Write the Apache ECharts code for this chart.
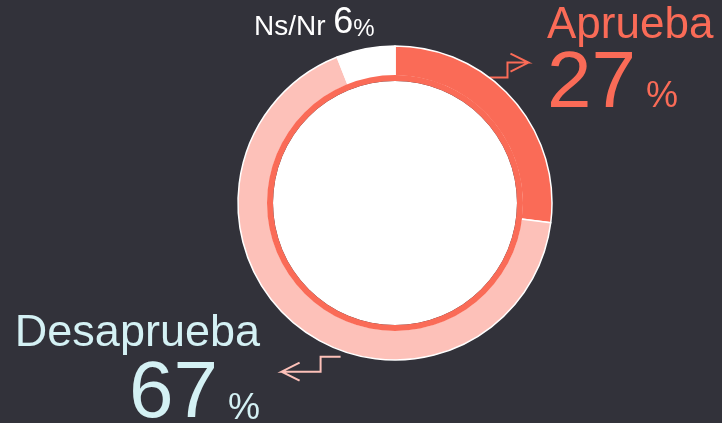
<!DOCTYPE html>
<html>
	<head>
		<meta charset="utf-8">
		<title></title>
		<script src="https://cdn.jsdelivr.net/npm/echarts@6/dist/echarts.min.js"></script>
		<style>
			html, body {
				margin: 0;
				padding: 0;
				background-color: #32323a;
			}
			#main {
				width: 722px;
				height: 423px;
			}
		</style>
	</head>
	<body>
		<div id="main"></div>
	</body>
	<script>
		// datos
		var categorias = ["Aprueba", "Desaprueba", "Ns/Nr"];
		var porcentajes = [27, 67, 6];
		var colores = ["#fa6b57", "#fdc1b9", "#ffffff"];
		var coloresTexto = ["#fa6b57", "#d4f1f4", "#ffffff"];

		var CX = 395, CY = 203, R_OUT = 157, R_IN = 127;

		function puntoBorde(angulo, r) {
			var a = angulo * Math.PI / 180;
			return [CX + r * Math.cos(a), CY - r * Math.sin(a)];
		}

		// flecha en zigzag: p0 -> codo -> codo -> punta, con sus dos alas
		function flecha(p0, dx1, dy, dx2) {
			var p1 = [p0[0] + dx1, p0[1]];
			var p2 = [p1[0], p1[1] + dy];
			var tip = [p2[0] + dx2, p2[1]];
			var s = dx2 > 0 ? -1 : 1;
			return [p0, p1, p2, tip, [tip[0] + s * 18, tip[1] - 9], tip, [tip[0] + s * 18, tip[1] + 9]];
		}

		var datos = [];
		for (var i = 0; i < categorias.length; i++) {
			datos.push({
				name: categorias[i],
				value: porcentajes[i],
				itemStyle: { color: colores[i] },
				labelLine: { lineStyle: { color: colores[i], width: 2 } }
			});
		}

		var fuente = '"Liberation Sans", Arial, sans-serif';

		var option = {
			backgroundColor: "#32323a",
			animation: false,
			series: [{
				type: "pie",
				center: [CX, CY],
				radius: [0, 122],
				silent: true,
				label: { show: false },
				itemStyle: { color: "#ffffff" },
				data: [{ value: 100 }]
			}, {
				type: "pie",
				center: [CX, CY],
				radius: [R_IN, R_OUT],
				startAngle: 90,
				clockwise: true,
				itemStyle: {
					borderColor: "#ffffff",
					borderWidth: 1.5
				},
				label: {
					show: true,
					position: "outside",
					overflow: "none",
					fontFamily: fuente,
					formatter: function (p) {
						if (p.dataIndex === 2) {
							return "{n2|" + p.name + " }{p2|" + p.value + "}{u2|%}";
						}
						var k = p.dataIndex === 0 ? "a" : "d";
						return "{n" + k + "|" + p.name + "}\n{p" + k + "|" + p.value + "}{u" + k + "| %}";
					},
					rich: {
						na: { fontFamily: fuente, fontSize: 44, lineHeight: 66, color: coloresTexto[0] },
						pa: { fontFamily: fuente, fontSize: 80, lineHeight: 66, color: coloresTexto[0], verticalAlign: "bottom" },
						ua: { fontFamily: fuente, fontSize: 36, lineHeight: 34, padding: [0, 0, 10, 0], color: coloresTexto[0], verticalAlign: "bottom" },
						nd: { fontFamily: fuente, fontSize: 45, lineHeight: 70, color: coloresTexto[1] },
						pd: { fontFamily: fuente, fontSize: 80, lineHeight: 66, color: coloresTexto[1], verticalAlign: "bottom" },
						ud: { fontFamily: fuente, fontSize: 36, lineHeight: 34, padding: [0, 0, 8, 0], color: coloresTexto[1], verticalAlign: "bottom" },
						n2: { fontFamily: fuente, fontSize: 28, lineHeight: 32, color: coloresTexto[2], verticalAlign: "bottom" },
						p2: { fontFamily: fuente, fontSize: 36, lineHeight: 34, color: coloresTexto[2], verticalAlign: "bottom" },
						u2: { fontFamily: fuente, fontSize: 24, lineHeight: 30, color: coloresTexto[2], verticalAlign: "bottom" }
					}
				},
				labelLine: { show: true },
				labelLayout: function (params) {
					if (params.dataIndex === 0) {
						return {
							x: 547, y: -7, align: "left", verticalAlign: "top",
							labelLinePoints: flecha(puntoBorde(53, R_OUT), 18, -15, 21)
						};
					}
					if (params.dataIndex === 1) {
						return {
							x: 260, y: 299, align: "right", verticalAlign: "top",
							labelLinePoints: flecha(puntoBorde(250.5, R_OUT + 6), -20, 15, -39)
						};
					}
					return {
						x: 254, y: 7, align: "left", verticalAlign: "top",
						labelLinePoints: [[0, 0], [0, 0]]
					};
				},
				data: datos
			}, {
				// anillo rojo interior
				type: "pie",
				center: [CX, CY],
				radius: [122, 128],
				silent: true,
				label: { show: false },
				itemStyle: { color: colores[0] },
				data: [{ value: 100 }]
			}]
		};

		var echart = echarts.init(document.getElementById("main"));
		echart.setOption(option);
	</script>
</html>
